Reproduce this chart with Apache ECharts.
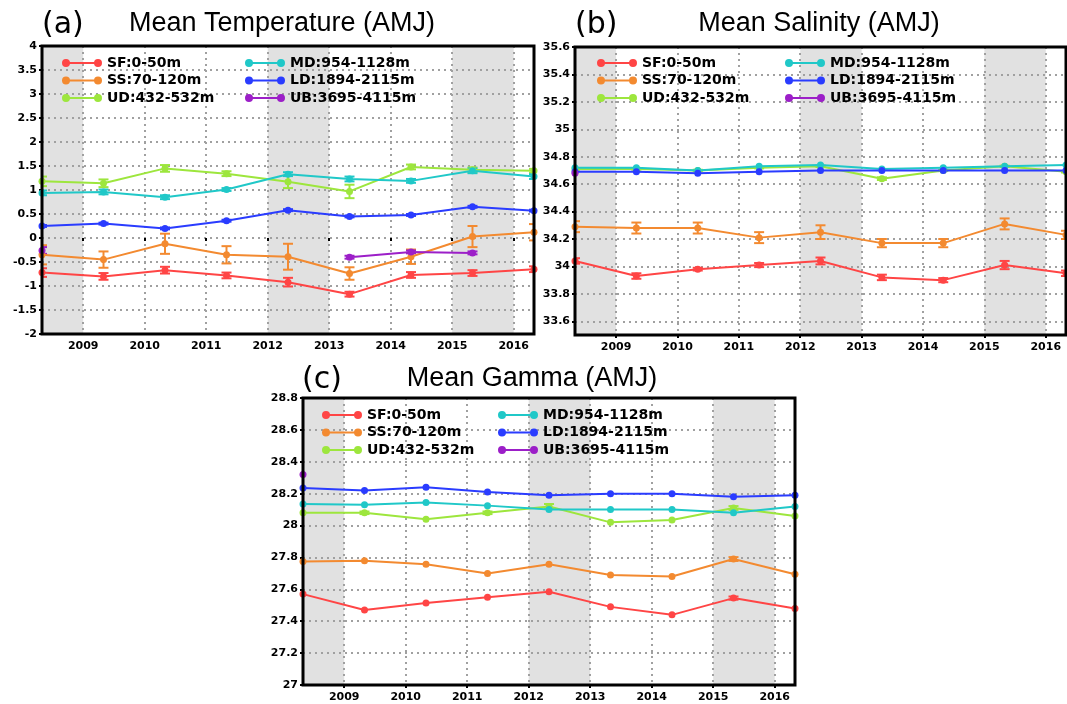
<!DOCTYPE html>
<html><head><meta charset="utf-8">
<script src="https://cdn.jsdelivr.net/npm/echarts@6/dist/echarts.min.js"></script>
<style>html,body{margin:0;padding:0;background:#fff}#c{width:1067px;height:704px}</style>
</head><body><div id="c"></div>
<script>
// ---------- data ----------
const xPos = [2008.33, 2009.33, 2010.33, 2011.33, 2012.33, 2013.33, 2014.33, 2015.33, 2016.33];
const shadeBands = [[2008, 2009], [2012, 2013], [2015, 2016]];
const seriesNames = ['SF:0-50m', 'SS:70-120m', 'UD:432-532m', 'MD:954-1128m', 'LD:1894-2115m', 'UB:3695-4115m'];

// (a) Mean Temperature
const T_SF = [-0.72, -0.80, -0.67, -0.78, -0.92, -1.17, -0.77, -0.73, -0.65];
const T_SS = [-0.35, -0.45, -0.12, -0.35, -0.39, -0.74, -0.39, 0.03, 0.12];
const T_UD = [1.18, 1.14, 1.45, 1.34, 1.17, 0.97, 1.48, 1.42, 1.40];
const T_MD = [0.94, 0.96, 0.85, 1.01, 1.33, 1.23, 1.19, 1.40, 1.28];
const T_LD = [0.25, 0.30, 0.20, 0.36, 0.58, 0.45, 0.48, 0.65, 0.57];
const T_UB = [-0.26, null, null, null, null, -0.40, -0.29, -0.31, null];
const T_SF_err = [0.09, 0.07, 0.07, 0.06, 0.09, 0.05, 0.06, 0.06, 0.06];
const T_SS_err = [0.20, 0.17, 0.21, 0.18, 0.27, 0.13, 0.15, 0.22, 0.17];
const T_UD_err = [0.10, 0.08, 0.07, 0.05, 0.13, 0.14, 0.05, 0.05, 0.04];
const T_MD_err = [0.05, 0.05, 0.04, 0.03, 0.04, 0.05, 0.04, 0.05, 0.05];
const T_LD_err = [0.02, 0.02, 0.02, 0.02, 0.02, 0.02, 0.02, 0.02, 0.02];
const T_UB_err = [0.07, 0, 0, 0, 0, 0.03, 0.03, 0.03, 0];

// (b) Mean Salinity
const S_SF = [34.04, 33.93, 33.98, 34.01, 34.04, 33.92, 33.90, 34.01, 33.95];
const S_SS = [34.29, 34.28, 34.28, 34.21, 34.25, 34.17, 34.17, 34.31, 34.23];
const S_UD = [34.71, 34.71, 34.70, 34.72, 34.73, 34.64, 34.70, 34.73, 34.69];
const S_MD = [34.72, 34.72, 34.70, 34.73, 34.74, 34.71, 34.72, 34.73, 34.74];
const S_LD = [34.69, 34.69, 34.68, 34.69, 34.70, 34.70, 34.70, 34.70, 34.70];
const S_UB = [34.68, null, null, null, null, null, null, null, null];
const S_SF_err = [0.02, 0.02, 0.01, 0.015, 0.025, 0.02, 0.015, 0.03, 0.02];
const S_SS_err = [0.04, 0.04, 0.04, 0.04, 0.05, 0.03, 0.03, 0.04, 0.03];
const S_UD_err = [0.005, 0.005, 0.005, 0.005, 0.005, 0.01, 0.005, 0.005, 0.005];
const S_MD_err = [0, 0, 0, 0, 0, 0, 0, 0, 0];
const S_LD_err = [0, 0, 0, 0, 0, 0, 0, 0, 0];
const S_UB_err = [0, 0, 0, 0, 0, 0, 0, 0, 0];

// (c) Mean Gamma
const G_SF = [27.57, 27.47, 27.515, 27.55, 27.585, 27.49, 27.44, 27.545, 27.48];
const G_SS = [27.775, 27.78, 27.757, 27.70, 27.757, 27.69, 27.68, 27.79, 27.695];
const G_UD = [28.08, 28.08, 28.04, 28.08, 28.12, 28.02, 28.035, 28.11, 28.06];
const G_MD = [28.135, 28.13, 28.145, 28.125, 28.10, 28.10, 28.10, 28.08, 28.12];
const G_LD = [28.235, 28.22, 28.24, 28.21, 28.19, 28.20, 28.20, 28.18, 28.19];
const G_UB = [28.32, null, null, null, null, null, null, null, null];
const G_SF_err = [0, 0, 0, 0, 0, 0, 0, 0.01, 0];
const G_SS_err = [0, 0, 0, 0, 0, 0, 0, 0.012, 0];
const G_UD_err = [0, 0.008, 0, 0.008, 0.015, 0, 0, 0.012, 0];
const G_MD_err = [0, 0, 0, 0, 0, 0, 0, 0, 0];
const G_LD_err = [0, 0, 0, 0, 0, 0, 0, 0, 0];
const G_UB_err = [0, 0, 0, 0, 0, 0, 0, 0, 0];

// ---------- styling ----------
const colors = ['#ff4545', '#f38a30', '#9de63d', '#20c8c8', '#2a3cff', '#9c1fc8'];
const panels = [
  {grid: {left: 42, top: 46, width: 492, height: 288},
   y: {min: -2, max: 4, interval: 0.5}, showMin: true,
   vals: [T_SF, T_SS, T_UD, T_MD, T_LD, T_UB], errs: [T_SF_err, T_SS_err, T_UD_err, T_MD_err, T_LD_err, T_UB_err],
   tag: '(a)', title: 'Mean Temperature (AMJ)', tagX: 42, titleX: 282, titleY: 24, legendTop: 56, legendLeft: [62, 245]},
  {grid: {left: 575, top: 47, width: 491, height: 288},
   y: {min: 33.5, max: 35.6, splitNumber: 10}, showMin: false,
   vals: [S_SF, S_SS, S_UD, S_MD, S_LD, S_UB], errs: [S_SF_err, S_SS_err, S_UD_err, S_MD_err, S_LD_err, S_UB_err],
   tag: '(b)', title: 'Mean Salinity (AMJ)', tagX: 575, titleX: 819, titleY: 24, legendTop: 56, legendLeft: [597, 785]},
  {grid: {left: 303, top: 398, width: 492, height: 287},
   y: {min: 27, max: 28.8, interval: 0.2}, showMin: true,
   vals: [G_SF, G_SS, G_UD, G_MD, G_LD, G_UB], errs: [G_SF_err, G_SS_err, G_UD_err, G_MD_err, G_LD_err, G_UB_err],
   tag: '(c)', title: 'Mean Gamma (AMJ)', tagX: 302, titleX: 532, titleY: 379, legendTop: 408, legendLeft: [322, 498]}
];

const labelFont = {color: '#000', fontWeight: 'bold', fontFamily: 'DejaVu Sans', fontSize: 11};
const gridLine = {show: true, lineStyle: {color: '#a0a0a0', width: 2, type: [2, 4]}};
const legendIcon = 'path://M0,4 A4,4 0 1,1 8,4 A4,4 0 1,1 0,4 Z M4,3 L36,3 L36,5 L4,5 Z M32,4 A4,4 0 1,1 40,4 A4,4 0 1,1 32,4 Z';

function bandRender(params, api) {
  const cs = params.coordSys;
  const x0 = api.coord([api.value(0), api.value(1)])[0];
  const x1 = api.coord([api.value(1), api.value(1)])[0];
  const l = Math.max(cs.x, Math.min(x0, x1));
  const r = Math.min(cs.x + cs.width, Math.max(x0, x1));
  if (r <= l) return;
  return {type: 'rect', shape: {x: l, y: cs.y, width: r - l, height: cs.height}, style: {fill: '#e1e1e1'}};
}
function errRender(params, api) {
  const x = api.value(0), y = api.value(1), e = api.value(2);
  if (!(e > 0)) return;
  const t = api.coord([x, y + e]), b = api.coord([x, y - e]);
  const c = api.visual('color');
  const hw = 5;
  const st = {stroke: c, lineWidth: 2};
  return {type: 'group', children: [
    {type: 'line', shape: {x1: t[0], y1: t[1], x2: b[0], y2: b[1]}, style: st},
    {type: 'line', shape: {x1: t[0] - hw, y1: t[1], x2: t[0] + hw, y2: t[1]}, style: st},
    {type: 'line', shape: {x1: b[0] - hw, y1: b[1], x2: b[0] + hw, y2: b[1]}, style: st}
  ]};
}

const option = {animation: false, backgroundColor: '#fff', grid: [], xAxis: [], yAxis: [], series: [], legend: [], graphic: []};
panels.forEach((p, i) => {
  option.grid.push(Object.assign({show: true, z: 5, borderColor: '#000', borderWidth: 3, backgroundColor: 'transparent'}, p.grid));
  option.xAxis.push({type: 'value', gridIndex: i, min: 2008.33, max: 2016.33, splitNumber: 8, z: 1,
    axisLine: {show: false}, axisTick: {show: true, length: 3, lineStyle: {color: '#000', width: 2}},
    axisLabel: Object.assign({margin: 7, showMinLabel: false, showMaxLabel: false, formatter: v => String(Math.round(v))}, labelFont),
    splitLine: gridLine});
  option.yAxis.push(Object.assign({type: 'value', gridIndex: i, z: 1,
    axisLine: {show: false}, axisTick: {show: true, length: 3, lineStyle: {color: '#000', width: 2}},
    axisLabel: Object.assign({margin: 5, showMinLabel: p.showMin, showMaxLabel: true}, labelFont),
    splitLine: gridLine}, p.y));
  option.series.push({type: 'custom', xAxisIndex: i, yAxisIndex: i, data: shadeBands, renderItem: bandRender, z: 0, silent: true});
  seriesNames.forEach((name, j) => {
    option.series.push({type: 'line', name: name, xAxisIndex: i, yAxisIndex: i,
      data: xPos.map((x, k) => [x, p.vals[j][k]]), symbol: 'circle', symbolSize: 7, connectNulls: false,
      lineStyle: {width: 2, color: colors[j]}, itemStyle: {color: colors[j]}, z: 3, silent: true});
    option.series.push({type: 'custom', name: name + ' err', xAxisIndex: i, yAxisIndex: i,
      data: xPos.map((x, k) => [x, p.vals[j][k], p.errs[j][k]]).filter(d => d[1] !== null && d[2] > 0),
      renderItem: errRender, itemStyle: {color: colors[j]}, clip: true, z: 3, silent: true});
  });
  [[0, 1, 2], [3, 4, 5]].forEach((idx, c) => {
    option.legend.push({orient: 'vertical', left: p.legendLeft[c], top: p.legendTop, padding: 0,
      itemWidth: 40, itemHeight: 8, itemGap: 3.5, icon: legendIcon, selectedMode: false,
      textStyle: {color: '#000', fontWeight: 'bold', fontFamily: 'DejaVu Sans', fontSize: 14, lineHeight: 14},
      data: idx.map(k => seriesNames[k])});
  });
  option.graphic.push({type: 'text', x: p.tagX, y: p.titleY + 1,
    style: {text: p.tag, font: 'normal 30px "DejaVu Sans"', fill: '#000', textAlign: 'left', textVerticalAlign: 'middle', align: 'left', verticalAlign: 'middle'}});
  option.graphic.push({type: 'text', x: p.titleX, y: p.titleY,
    style: {text: p.title, font: 'normal 27px "Liberation Sans"', fill: '#000', textAlign: 'center', textVerticalAlign: 'middle', align: 'center', verticalAlign: 'middle'}});
});

const chart = echarts.init(document.getElementById('c'), null, {renderer: 'canvas'});
chart.setOption(option);
</script></body></html>
